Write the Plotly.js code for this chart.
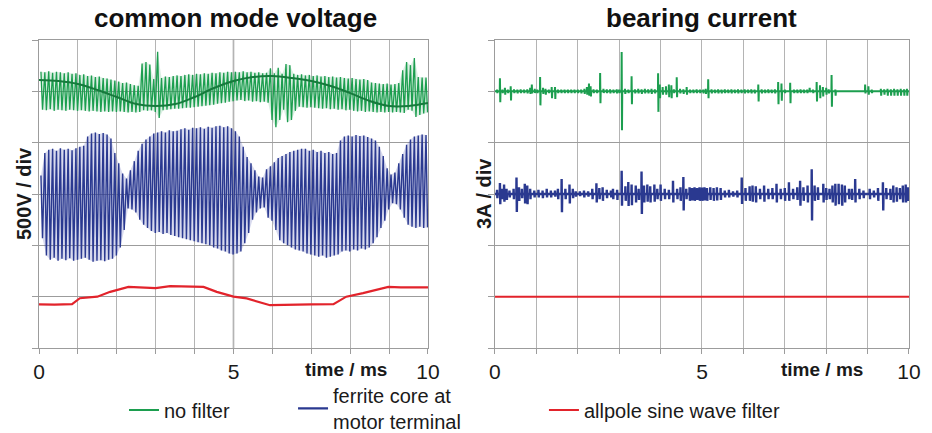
<!DOCTYPE html>
<html><head><meta charset="utf-8">
<script src="https://cdn.plot.ly/plotly-3.0.1.min.js"></script>
<style>html,body{margin:0;padding:0;background:#fff}#chart{width:932px;height:433px}</style>
</head><body><div id="chart"></div>
<script>
// ---------------- data ----------------
// oscillation bursts of the common mode voltage, one burst every 0.1 ms (V, relative to channel zero)
const burstStart = 0.05, burstStep = 0.1; // ms
const cmvNoFilterHi = [190,185,195,180,190,185,175,185,170,175,
 160,165,150,155,140,145,130,125,115,105,
 95,80,85,70,60,55,270,285,260,120,
 385,130,145,140,150,155,150,160,165,160,
 170,165,175,170,180,175,185,180,190,185,
 190,185,195,185,190,180,185,175,180,225,
 175,230,170,265,255,170,160,165,155,160,
 150,155,145,150,140,145,135,140,130,125,
 130,120,115,120,110,85,80,75,70,75,
 65,70,80,205,285,255,325,140,135,135];
const cmvNoFilterLo = [-180,-185,-175,-190,-180,-185,-190,-180,-185,-190,
 -185,-190,-195,-190,-195,-200,-195,-200,-195,-200,
 -195,-200,-205,-200,-205,-200,-185,-190,-185,-200,
 -260,-185,-180,-175,-170,-170,-165,-160,-160,-155,
 -150,-145,-140,-135,-130,-120,-115,-110,-100,-95,
 -90,-85,-95,-90,-100,-95,-105,-100,-110,-280,
 -350,-280,-180,-300,-280,-190,-150,-155,-160,-155,
 -160,-165,-170,-165,-175,-170,-180,-175,-185,-180,
 -190,-195,-190,-200,-195,-200,-205,-200,-205,-200,
 -205,-200,-205,-210,-180,-190,-250,-230,-215,-205];
// slow component of the unfiltered common mode voltage
const cmvNoFilterSlowT = [0,0.5,1,1.5,2,2.5,3,3.5,4,4.5,5,5.5,6,6.5,7,7.5,8,8.5,9,9.5,10];
const cmvNoFilterSlowV = [110,100,71,13,-55,-124,-143,-124,-55,32,100,139,149,130,100,52,-17,-94,-143,-143,-114];

const cmvFerriteHi = [180,400,430,440,420,445,430,440,425,445,
 460,470,560,590,600,585,595,580,540,400,
 300,200,150,230,320,420,490,530,560,590,
 600,610,600,620,610,615,630,640,625,645,
 640,650,635,655,645,660,665,650,660,640,
 610,560,460,360,300,230,170,160,240,270,
 310,350,370,390,410,420,430,440,440,420,
 430,410,420,400,410,390,400,520,560,570,
 560,575,565,570,555,540,520,460,370,250,
 190,210,300,390,480,530,560,570,580,575];
const cmvFerriteLo = [-430,-600,-640,-620,-650,-630,-645,-625,-650,-640,
 -630,-620,-640,-660,-650,-645,-655,-640,-630,-600,
 -520,-350,-140,-150,-180,-250,-300,-330,-360,-380,
 -370,-390,-380,-400,-410,-420,-430,-440,-450,-460,
 -470,-480,-490,-500,-520,-530,-550,-560,-580,-590,
 -580,-560,-480,-380,-250,-180,-140,-130,-230,-260,
 -350,-450,-480,-500,-520,-540,-550,-560,-580,-590,
 -600,-610,-600,-620,-610,-600,-590,-560,-550,-560,
 -540,-550,-530,-540,-520,-480,-420,-330,-260,-150,
 -90,-100,-150,-230,-300,-320,-330,-320,-330,-325];

const cmvSineT = [0,0.4,0.85,1.05,1.5,1.83,2.3,2.77,3.0,3.37,3.8,4.23,4.57,5.0,5.34,5.94,6.3,6.7,7.0,7.57,7.9,8.33,8.98,9.3,9.6,10];
const cmvSineV = [-75,-78,-73,-15,0,47,95,86,83,102,95,95,47,0,-17,-83,-80,-73,-75,-73,0,34,95,90,92,90];

// bearing current pulses (ms, A)
const ibNoFilterT = [0.05,0.12,0.18,0.24,0.31,0.38,0.46,0.54,0.62,0.70,0.78,0.85,0.89,0.96,1.02,1.09,1.16,1.22,1.30,1.37,1.45,1.52,1.60,1.68,1.76,1.84,1.92,2.00,2.08,2.16,2.22,2.27,2.31,2.38,2.46,2.54,2.62,2.70,2.78,2.86,2.94,3.00,3.06,3.14,3.22,3.30,3.38,3.46,3.54,3.62,3.70,3.78,3.86,3.94,3.98,4.05,4.13,4.20,4.26,4.32,4.39,4.47,4.55,4.63,4.71,4.79,4.87,4.95,5.03,5.09,5.15,5.23,5.31,5.39,5.47,5.55,5.63,5.71,5.79,5.87,5.95,6.03,6.11,6.19,6.27,6.36,6.44,6.52,6.60,6.68,6.76,6.84,6.92,7.00,7.13,7.22,7.30,7.38,7.46,7.54,7.60,7.68,7.77,7.85,7.92,8.00,8.06,8.13,8.22,8.94,9.02,9.10,9.32,9.40,9.48,9.56,9.64,9.72,9.80,9.88,9.95];
const ibNoFilterHi = [.1,.76,.1,.2,.1,.3,.12,.1,.12,.1,.12,.2,.4,.15,.1,.84,.2,.15,.1,.25,.25,.1,.1,.1,.1,.1,.1,.1,.1,.15,.25,.45,.3,.12,.1,1.07,.15,.12,.12,.1,.12,.1,2.3,.15,.1,.88,.12,.15,.12,.15,.12,.15,.12,1.05,.4,.25,.3,.4,.35,.12,.82,.15,.12,.25,.1,.1,.12,.1,.1,.15,.7,.12,.1,.12,.1,.12,.1,.12,.1,.12,.1,.12,.1,.12,.1,.4,.12,.1,.12,.1,.12,.55,.45,.1,.5,.1,.1,.12,.1,.1,.2,.1,.55,.35,.25,.2,.12,.95,.1,.4,.3,.1,.15,.12,.15,.12,.15,.12,.15,.12,.15];
const ibNoFilterLo = [-.1,-.64,-.1,-.2,-.1,-.53,-.1,-.12,-.1,-.1,-.12,-.15,-.12,-.1,-.1,-.82,-.15,-.2,-.1,-.4,-.45,-.1,-.1,-.1,-.1,-.1,-.1,-.1,-.12,-.15,-.2,-.25,-.3,-.1,-.1,-.7,-.1,-.1,-.12,-.1,-.12,-.1,-2.28,-.15,-.1,-.76,-.12,-.12,-.15,-.12,-.12,-.15,-.12,-1.2,-.4,-.2,-.2,-.35,-.4,-.1,-.35,-.12,-.15,-.2,-.1,-.1,-.1,-.1,-.12,-.15,-.4,-.12,-.1,-.12,-.12,-.1,-.1,-.12,-.1,-.12,-.1,-.12,-.1,-.12,-.12,-.6,-.12,-.1,-.1,-.1,-.12,-.75,-.55,-.1,-.7,-.1,-.1,-.1,-.1,-.1,-.05,-.1,-.6,-.4,-.3,-.2,-.12,-.9,-.25,-.12,-.2,-.1,-.25,-.2,-.25,-.25,-.25,-.25,-.25,-.25,-.25];

const ibFerriteT = [0.05,0.12,0.17,0.22,0.28,0.35,0.45,0.52,0.58,0.65,0.72,0.78,0.85,0.95,1.05,1.15,1.25,1.35,1.45,1.52,1.61,1.70,1.80,1.88,1.95,2.05,2.15,2.25,2.35,2.45,2.52,2.60,2.70,2.80,2.85,2.95,3.06,3.15,3.22,3.30,3.40,3.47,3.54,3.60,3.68,3.75,3.85,3.92,4.00,4.10,4.20,4.30,4.40,4.48,4.55,4.62,4.70,4.76,4.82,4.88,4.94,5.00,5.06,5.12,5.20,5.28,5.36,5.45,5.55,5.65,5.75,5.85,5.96,6.05,6.15,6.22,6.30,6.40,6.50,6.60,6.70,6.80,6.90,7.00,7.10,7.20,7.30,7.37,7.45,7.55,7.65,7.72,7.80,7.93,8.00,8.08,8.15,8.22,8.30,8.38,8.45,8.55,8.62,8.70,8.80,8.90,9.05,9.15,9.25,9.37,9.45,9.55,9.62,9.70,9.78,9.85,9.92,9.97];
const ibFerriteHi = [.25,.64,.3,.55,.3,.2,.3,.97,.4,.3,.6,.5,.3,.2,.25,.2,.3,.2,.2,.3,.88,.3,.55,.3,.15,.15,.2,.15,.3,.62,.35,.4,.25,.2,.3,.25,1.36,.45,.7,.55,.5,.3,1.32,.5,.55,.45,.55,.3,.55,.3,.25,.78,.3,.4,1.0,.3,.4,.35,.4,.35,.4,.38,.4,.35,.4,.35,.4,.35,.2,.25,.15,.2,.97,.35,.45,.5,.45,.3,.5,.3,.35,.6,.3,.35,.68,.3,.4,.78,.4,.5,1.45,.5,.4,.6,.35,.3,.5,.6,.6,.55,.5,.3,.3,.88,.3,.2,.3,.2,.35,.68,.35,.3,.5,.4,.35,.5,.55,.4];
const ibFerriteLo = [-.25,-.6,-.3,-.45,-.35,-.2,-.3,-1.05,-.4,-.25,-.55,-.6,-.3,-.2,-.2,-.25,-.2,-.2,-.15,-.3,-1.07,-.3,-.55,-.25,-.15,-.12,-.2,-.15,-.3,-.5,-.3,-.4,-.25,-.2,-.3,-.35,-.68,-.4,-.7,-.65,-.5,-.35,-1.17,-.5,-.45,-.5,-.45,-.3,-.4,-.3,-.3,-.5,-.3,-.4,-.97,-.3,-.4,-.38,-.4,-.35,-.4,-.4,-.38,-.4,-.35,-.4,-.38,-.35,-.2,-.2,-.15,-.2,-.58,-.4,-.4,-.45,-.5,-.3,-.45,-.3,-.3,-.5,-.3,-.4,-.4,-.3,-.35,-.68,-.4,-.5,-1.55,-.4,-.35,-.5,-.35,-.3,-.5,-.68,-.6,-.68,-.5,-.3,-.35,-.5,-.3,-.25,-.3,-.2,-.4,-.97,-.3,-.35,-.5,-.45,-.3,-.5,-.5,-.4];

const ibSineT = [0, 10];
const ibSineV = [0, 0];

// ---------------- presentation ----------------
const chOffsetV = {noFilter: 2500, ferrite: 1500, sine: 500};   // oscilloscope channel positions
const chOffsetA = {noFilter: 15, ferrite: 9, sine: 3};
const GREEN = '#1c9e4f', BLUE = '#2a3990', RED = '#e2232b';
const GRIDH = '#9c9c9c', GRIDV = '#b4b4b4';
const FONT = 'Arial, "Liberation Sans", sans-serif';

function bursts(hi, lo, off) {
  const x = [], y = [];
  for (let i = 0; i < hi.length; i++) {
    const t = burstStart + i * burstStep;
    x.push(t, t + 0.04); y.push(hi[i] + off, lo[i] + off);
  }
  return {x, y};
}
// faint band behind the bursts (the unresolved fast ringing between the strokes)
function band(hi, lo, off) {
  const x = [], y = [];
  for (let i = 0; i < hi.length; i++) { x.push(burstStart + i * burstStep); y.push(hi[i] + off); }
  for (let i = lo.length - 1; i >= 0; i--) { x.push(burstStart + i * burstStep + 0.04); y.push(lo[i] + off); }
  return {x, y};
}
function pulses(T, H, L, off) {
  const x = [0], y = [off];
  for (let i = 0; i < T.length; i++) {
    x.push(T[i] - 0.004, T[i], T[i] + 0.008, T[i] + 0.014);
    y.push(off, H[i] + off, L[i] + off, off);
  }
  x.push(10); y.push(off);
  return {x, y};
}
const shift = (arr, off) => arr.map(v => v + off);

const g1 = bursts(cmvNoFilterHi, cmvNoFilterLo, chOffsetV.noFilter);
const b1 = bursts(cmvFerriteHi, cmvFerriteLo, chOffsetV.ferrite);
const g1band = band(cmvNoFilterHi, cmvNoFilterLo, chOffsetV.noFilter);
const b1band = band(cmvFerriteHi, cmvFerriteLo, chOffsetV.ferrite);
const g2 = pulses(ibNoFilterT, ibNoFilterHi, ibNoFilterLo, chOffsetA.noFilter);
const b2 = pulses(ibFerriteT, ibFerriteHi, ibFerriteLo, chOffsetA.ferrite);

const traces = [
  {x: g1band.x, y: g1band.y, mode: 'lines', fill: 'toself', fillcolor: 'rgba(28,158,79,0.16)', line: {width: 0}, xaxis: 'x', yaxis: 'y', showlegend: false, name: 'no filter'},
  {x: b1band.x, y: b1band.y, mode: 'lines', fill: 'toself', fillcolor: 'rgba(60,70,170,0.2)', line: {width: 0}, xaxis: 'x', yaxis: 'y', showlegend: false, name: 'ferrite core at motor terminal'},
  {x: g1.x, y: g1.y, mode: 'lines', line: {color: GREEN, width: 1.3}, xaxis: 'x', yaxis: 'y', showlegend: false, name: 'no filter'},
  {x: cmvNoFilterSlowT, y: shift(cmvNoFilterSlowV, chOffsetV.noFilter), mode: 'lines', line: {color: '#167a3c', width: 2, shape: 'spline'}, xaxis: 'x', yaxis: 'y', showlegend: false, name: 'no filter'},
  {x: b1.x, y: b1.y, mode: 'lines', line: {color: BLUE, width: 1.4}, xaxis: 'x', yaxis: 'y', showlegend: false, name: 'ferrite core at motor terminal'},
  {x: cmvSineT, y: shift(cmvSineV, chOffsetV.sine), mode: 'lines', line: {color: RED, width: 2.2}, xaxis: 'x', yaxis: 'y', name: 'allpole sine wave filter', legend: 'legend3'},
  {x: g2.x, y: g2.y, mode: 'lines', line: {color: GREEN, width: 2}, xaxis: 'x2', yaxis: 'y2', name: 'no filter', legend: 'legend'},
  {x: b2.x, y: b2.y, mode: 'lines', line: {color: BLUE, width: 2.4}, xaxis: 'x2', yaxis: 'y2', name: 'ferrite core at<br>motor terminal', legend: 'legend2'},
  {x: ibSineT, y: shift(ibSineV, chOffsetA.sine), mode: 'lines', line: {color: RED, width: 2}, xaxis: 'x2', yaxis: 'y2', showlegend: false, name: 'allpole sine wave filter'}
];

const xTicks = [0,1,2,3,4,5,6,7,8,9,10];
const xTickText = ['0','','','','','5','','','','','10'];
function xax(domain) {
  return {domain, range: [0, 10], tickvals: xTicks, ticktext: xTickText, ticks: 'outside', ticklen: 5,
    tickcolor: GRIDH, showgrid: true, gridcolor: GRIDV, gridwidth: 1, showline: true, mirror: true,
    linecolor: GRIDH, linewidth: 1, zeroline: false, tickfont: {family: FONT, size: 21, color: '#1a1a1a'}, fixedrange: true};
}
function yax(range, dtick, anchor) {
  return {domain: [0, 1], range, tick0: 0, dtick, showticklabels: false, ticks: 'outside', ticklen: 6,
    tickcolor: GRIDH, showgrid: true, gridcolor: GRIDH, gridwidth: 1, showline: true, mirror: true,
    linecolor: GRIDH, linewidth: 1, zeroline: false, anchor, fixedrange: true};
}
const legendBase = {orientation: 'h', yanchor: 'middle', xanchor: 'left', y: -0.2013,
  font: {family: FONT, size: 20, color: '#1a1a1a'}, bgcolor: 'rgba(0,0,0,0)', itemclick: false};

const layout = {
  width: 932, height: 433, margin: {l: 39, r: 23, t: 40, b: 85, autoexpand: false},
  paper_bgcolor: '#fff', plot_bgcolor: '#fff', hovermode: false, showlegend: true,
  xaxis: xax([0, 0.4471]), yaxis: yax([0, 3000], 500, 'x'),
  xaxis2: xax([0.5241, 1]), yaxis2: yax([0, 18], 3, 'x2'),
  legend: Object.assign({}, legendBase, {x: 0.0977}),
  legend2: Object.assign({}, legendBase, {x: 0.292, y: -0.196}),
  legend3: Object.assign({}, legendBase, {x: 0.5804}),
  shapes: [{type: 'line', xref: 'x', yref: 'y domain', x0: 5, x1: 5, y0: 0, y1: 1, line: {color: '#7a7a7a', width: 1.4}, layer: 'below'}],
  annotations: [
    {text: '<b>common mode voltage</b>', xref: 'paper', yref: 'paper', x: 0.2253, y: 1.071, showarrow: false, xanchor: 'center', yanchor: 'middle', font: {family: FONT, size: 26, color: '#111'}},
    {text: '<b>bearing current</b>', xref: 'paper', yref: 'paper', x: 0.762, y: 1.071, showarrow: false, xanchor: 'center', yanchor: 'middle', font: {family: FONT, size: 26, color: '#111'}},
    {text: '<b>500V / div</b>', xref: 'paper', yref: 'paper', x: -0.0172, y: 0.5, textangle: -90, showarrow: false, xanchor: 'center', yanchor: 'middle', font: {family: FONT, size: 20, color: '#1a1a1a'}},
    {text: '<b>3A / div</b>', xref: 'paper', yref: 'paper', x: 0.5115, y: 0.5, textangle: -90, showarrow: false, xanchor: 'center', yanchor: 'middle', font: {family: FONT, size: 20, color: '#1a1a1a'}},
    {text: '<b>time / ms</b>', xref: 'paper', yref: 'paper', x: 0.3529, y: -0.0714, showarrow: false, xanchor: 'center', yanchor: 'middle', font: {family: FONT, size: 19, color: '#1a1a1a'}},
    {text: '<b>time / ms</b>', xref: 'paper', yref: 'paper', x: 0.9, y: -0.0714, showarrow: false, xanchor: 'center', yanchor: 'middle', font: {family: FONT, size: 19, color: '#1a1a1a'}}
  ]
};
Plotly.newPlot('chart', traces, layout, {staticPlot: true, displayModeBar: false});
</script></body></html>
